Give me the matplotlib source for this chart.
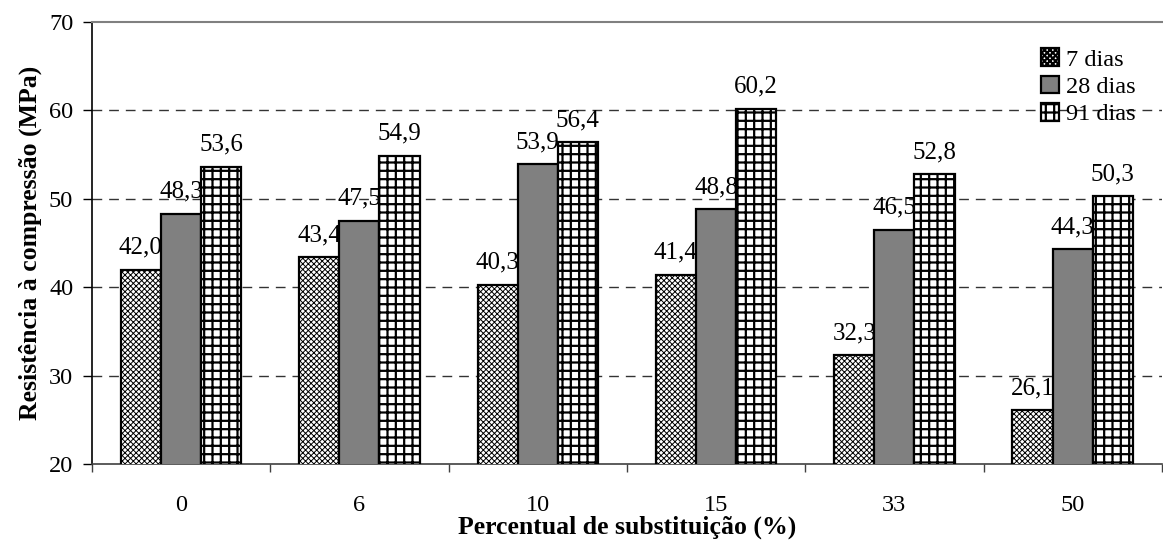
import numpy as np
import matplotlib.pyplot as plt

plt.rcParams['font.family'] = ['Liberation Serif', 'DejaVu Serif']
plt.rcParams['hatch.linewidth'] = 1.6

categorias = ['0', '6', '10', '15', '33', '50']
dias_7 = [42.0, 43.4, 40.3, 41.4, 32.3, 26.1]
dias_28 = [48.3, 47.5, 53.9, 48.8, 46.5, 44.3]
dias_91 = [53.6, 54.9, 56.4, 60.2, 52.8, 50.3]

fig = plt.figure(figsize=(11.63, 5.45), dpi=100)
ax = fig.add_axes([0.079, 0.1486, 0.92, 0.811])

x = np.arange(len(categorias))
w = 0.225

series = [
    (dias_7, '7 dias', 'white', 'xxxxxx', 0.7),
    (dias_28, '28 dias', '#808080', None, 0),
    (dias_91, '91 dias', 'white', '++', 1.6),
]

for i, (vals, lab, cor, hatch, hlw) in enumerate(series):
    pos = x + (i - 1) * w
    bars = ax.bar(pos, vals, w, bottom=0, color=cor, edgecolor='black',
                  linewidth=1.6, hatch=hatch, label=lab, zorder=3)
    for b in bars:
        if hatch:
            b._hatch_linewidth = hlw
    for p, v in zip(pos, vals):
        ax.annotate(f'{v:.1f}'.replace('.', ','), (p, v), xytext=(0, 8),
                    textcoords='offset points', ha='center', va='bottom',
                    fontsize=18, zorder=2)

ax.set_ylim(20, 70)
ax.set_xlim(-0.5, len(categorias) - 0.5)
ax.set_yticks(range(20, 71, 10))
ax.set_xticks(x)
ax.set_xticklabels(categorias)
ax.set_xticks(np.arange(-0.5, len(categorias), 1), minor=True)
ax.tick_params(axis='x', which='major', length=0, pad=22, labelsize=17.5)
ax.tick_params(axis='x', which='minor', length=6, direction='out', width=1, color='#404040')
ax.tick_params(axis='y', length=6.5, direction='out', width=1, labelsize=17.5, pad=7)

for yv in [30, 40, 50, 60]:
    ax.axhline(yv, color='#333333', linewidth=1, linestyle=(0, (7, 5)), zorder=1)

ax.spines['right'].set_visible(False)
ax.spines['top'].set_color('#808080')
ax.spines['top'].set_linewidth(1.5)
ax.spines['left'].set_linewidth(1.2)
ax.spines['bottom'].set_color('#404040')
ax.spines['bottom'].set_linewidth(1.2)

ax.set_xlabel('Percentual de substituição (%)', fontsize=18.5, fontweight='bold', labelpad=0)
ax.set_ylabel('Resistência à compressão (MPa)', fontsize=18.5, fontweight='bold', labelpad=5)

ax.legend(loc='upper right', bbox_to_anchor=(0.996, 0.99), frameon=False,
          prop={'family': 'Liberation Serif', 'size': 17.5},
          handlelength=0.75, handleheight=0.75, handletextpad=0.3, labelspacing=0.2)

fig.savefig('out.png', dpi=100)
